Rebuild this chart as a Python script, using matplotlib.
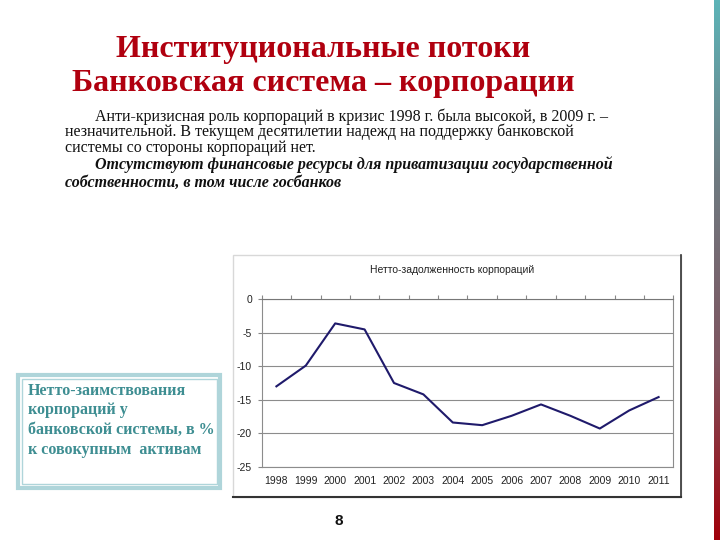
import numpy as np
import matplotlib
matplotlib.use('Agg')
import matplotlib.pyplot as plt
from matplotlib.colors import LinearSegmentedColormap
from matplotlib.patches import Rectangle
from matplotlib.ticker import FixedLocator, FixedFormatter

# Chart data
years = ['1998', '1999', '2000', '2001', '2002', '2003', '2004',
         '2005', '2006', '2007', '2008', '2009', '2010', '2011']
net_debt = [-13.0, -9.9, -3.6, -4.5, -12.5, -14.2, -18.4,
            -18.8, -17.4, -15.7, -17.4, -19.3, -16.6, -14.6]
y_ticks = [0, -5, -10, -15, -20, -25]

W, H = 720, 540
fig = plt.figure(figsize=(W / 100, H / 100), dpi=100)
fig.patch.set_facecolor('white')


def px(x, y):
    # pixel coordinates (from top-left) to figure fraction
    return x / W, 1 - y / H


red = '#B0000F'
teal_text = '#3E8E92'

# Titles
fig.text(*px(323, 50), 'Институциональные потоки', ha='center', va='center',
         family='Liberation Serif', weight='bold', fontsize=23, color=red)
fig.text(*px(323, 83), 'Банковская система – корпорации', ha='center', va='center',
         family='Liberation Serif', weight='bold', fontsize=23, color=red)

# Body text
body = dict(family='Liberation Serif', fontsize=11.5, color='#111111', va='center')
fig.text(*px(95, 117), 'Анти-кризисная роль корпораций в кризис 1998 г. была высокой, в 2009 г. –', **body)
fig.text(*px(65, 132), 'незначительной. В текущем десятилетии надежд на поддержку банковской', **body)
fig.text(*px(65, 148), 'системы со стороны корпораций нет.', **body)
fig.text(*px(95, 165), 'Отсутствуют финансовые ресурсы для приватизации государственной',
         style='italic', weight='bold', **body)
fig.text(*px(65, 183), 'собственности, в том числе госбанков',
         style='italic', weight='bold', **body)

# Side note box (double border)
x0, y0 = px(18, 488)
fig.patches.append(Rectangle((x0, y0), 202 / W, 113 / H, transform=fig.transFigure,
                             fill=False, edgecolor='#AFD5DA', linewidth=3))
x1, y1 = px(22, 484)
fig.patches.append(Rectangle((x1, y1), 195 / W, 105 / H, transform=fig.transFigure,
                             fill=False, edgecolor='#AFD5DA', linewidth=1))
note = ['Нетто-заимствования', 'корпораций у', 'банковской системы, в %', 'к совокупным  активам']
for i, line in enumerate(note):
    fig.text(*px(28, 391 + i * 19.5), line, family='Liberation Serif', weight='bold',
             fontsize=11.5, color=teal_text, va='center')

# Chart outer frame
fx, fy = px(233, 497)
fig.patches.append(Rectangle((fx, fy), 448 / W, 242 / H, transform=fig.transFigure,
                             fill=False, edgecolor='#D8D8D8', linewidth=1))
fig.add_artist(plt.Line2D([233 / W, 681 / W], [fy, fy], transform=fig.transFigure,
                          color='#333333', linewidth=1.5))
fig.add_artist(plt.Line2D([681 / W, 681 / W], [fy, 1 - 255 / H], transform=fig.transFigure,
                          color='#333333', linewidth=1.2))

fig.text(*px(452, 270), 'Нетто-задолженность корпораций', ha='center', va='center',
         family='Liberation Sans', fontsize=7.5, color='#222222')

# Line chart
ax = fig.add_axes([261.7 / W, 73.3 / H, 411.6 / W, 167.4 / H])
x = np.arange(len(years))
ax.plot(x, net_debt, color='#1F1A6B', linewidth=1.5)
ax.set_xlim(-0.5, len(years) - 0.5)
ax.set_ylim(-25, 0)
ax.set_yticks(y_ticks)
ax.set_yticklabels([str(v) for v in y_ticks])
ax.yaxis.grid(True, color='#8C8C8C', linewidth=0.8)
ax.set_axisbelow(True)

ax.xaxis.set_major_locator(FixedLocator(np.arange(len(years) + 1) - 0.5))
ax.xaxis.set_minor_locator(FixedLocator(x))
ax.xaxis.set_minor_formatter(FixedFormatter(years))
ax.tick_params(axis='x', which='major', top=True, bottom=False, labeltop=False,
               labelbottom=False, direction='out', length=3, color='#888888')
ax.tick_params(axis='x', which='minor', bottom=False, top=False, length=0,
               labelbottom=True, pad=7, labelsize=7.5)
ax.tick_params(axis='y', length=3, color='#888888', labelsize=7.5, pad=4)
for lbl in ax.get_xticklabels(minor=True) + ax.get_yticklabels():
    lbl.set_family('Liberation Sans')
    lbl.set_color('#222222')
for name, sp in ax.spines.items():
    sp.set_color('#8C8C8C')
    sp.set_linewidth(0.8)
ax.spines['top'].set_color('#777777')

# Right gradient stripe
cmap = LinearSegmentedColormap.from_list('stripe', ['#5DB4B8', '#6F7A80', '#7E5560', '#A0000A'])
sax = fig.add_axes([714 / W, 0, 6 / W, 1])
sax.imshow(np.linspace(0, 1, 256).reshape(-1, 1), aspect='auto', cmap=cmap)
sax.axis('off')

# Page number
fig.text(*px(339, 521), '8', ha='center', va='center', family='Liberation Sans',
         weight='bold', fontsize=11, color='#111111')

fig.savefig('out.png', dpi=100)
